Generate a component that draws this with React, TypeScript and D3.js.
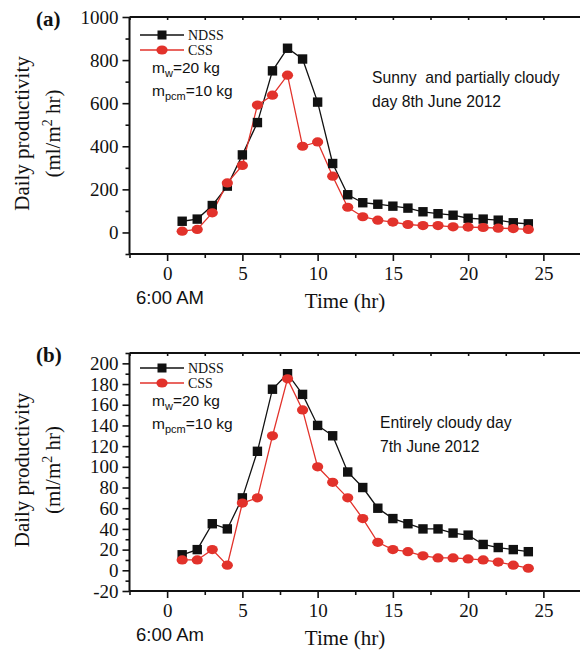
import React from 'react';
import * as d3 from 'd3';

const hours = [1, 2, 3, 4, 5, 6, 7, 8, 9, 10, 11, 12, 13, 14, 15, 16, 17, 18, 19, 20, 21, 22, 23, 24];

const ndssSunny = [52, 62, 125, 215, 360, 510, 750, 855, 805, 605, 320, 175, 138, 131, 122, 113, 96, 87, 80, 66, 62, 57, 45, 40];
const cssSunny = [6, 14, 91, 230, 311, 591, 637, 730, 400, 420, 261, 117, 73, 57, 48, 37, 32, 32, 26, 25, 23, 20, 18, 14];

const ndssCloudy = [15, 20, 45, 40, 70, 115, 175, 190, 170, 140, 130, 95, 80, 60, 50, 45, 40, 40, 36, 34, 25, 22, 20, 18];
const cssCloudy = [10, 10, 20, 5, 65, 70, 130, 185, 155, 100, 85, 70, 50, 27, 20, 18, 14, 12, 12, 11, 10, 8, 5, 2];

const xTicks = [0, 5, 10, 15, 20, 25];
const yTicksA = [0, 200, 400, 600, 800, 1000];
const yTicksB = [-20, 0, 20, 40, 60, 80, 100, 120, 140, 160, 180, 200];

const RED = '#e2322b';
const BLK = '#111';
const SERIF = '"Liberation Serif", "Times New Roman", serif';
const SANS = '"Liberation Sans", Arial, sans-serif';

type PanelProps = {
    top: number,
    bottom: number,
    yDomain: [number, number],
    yTicks: number[],
    yMinorStep: number,
    ndss: number[],
    css: number[],
    letter: string,
    note: string[],
    noteX: number,
    noteY: number,
    timeLabel: string,
    legendY: number,
};

function Panel(p: PanelProps) {
    const xAxisRef = React.useRef<SVGGElement>(null);
    const yAxisRef = React.useRef<SVGGElement>(null);
    const topRef = React.useRef<SVGGElement>(null);

    const x = d3.scaleLinear().domain([-2.5, 27.5]).range([129.5, 581]);
    const y = d3.scaleLinear().domain(p.yDomain).range([p.bottom, p.top]);

    const minorX = d3.range(-2.5, 27.6, 2.5).filter(v => !xTicks.includes(v));
    const minorY = d3.range(p.yDomain[0], p.yDomain[1] + 0.1, p.yMinorStep).filter(v => !p.yTicks.includes(v));

    React.useEffect(() => {
        const style = (g: any) => {
            g.select('.domain').remove();
            g.selectAll('line').attr('stroke', BLK).attr('stroke-width', 1.6);
            g.selectAll('text').attr('font-family', SERIF).attr('font-size', 19).attr('fill', BLK);
        };
        const plain = (d: any) => String(d);
        d3.select(xAxisRef.current)
            .call(d3.axisBottom(x).tickValues(xTicks).tickSize(7).tickPadding(6).tickFormat(plain) as any)
            .call(style);
        d3.select(xAxisRef.current).append('g')
            .call(d3.axisBottom(x).tickValues(minorX).tickSize(4).tickFormat(() => '') as any)
            .call(style);
        d3.select(yAxisRef.current)
            .call(d3.axisLeft(y).tickValues(p.yTicks).tickSize(7).tickPadding(4).tickFormat(plain) as any)
            .call(style);
        d3.select(yAxisRef.current).append('g')
            .call(d3.axisLeft(y).tickValues(minorY).tickSize(4).tickFormat(() => '') as any)
            .call(style);
        d3.select(topRef.current)
            .call(d3.axisBottom(x).tickValues(d3.range(-2.5, 27.6, 2.5)).tickSize(3).tickFormat(() => '') as any)
            .call(style);
        return () => {
            d3.select(xAxisRef.current).selectAll('*').remove();
            d3.select(yAxisRef.current).selectAll('*').remove();
            d3.select(topRef.current).selectAll('*').remove();
        };
    }, []);

    const line = d3.line<number>().x((d, i) => x(hours[i])).y(d => y(d));
    const midY = (p.top + p.bottom) / 2 - 2;
    const lx = 140;

    return <g>
        <g ref={xAxisRef} transform={`translate(0,${p.bottom})`} />
        <g ref={yAxisRef} transform={`translate(${x(-2.5)},0)`} />
        <g ref={topRef} transform={`translate(0,${p.top})`} />
        <line x1={x(-2.5)} x2={581} y1={p.bottom} y2={p.bottom} stroke={BLK} strokeWidth={2} />
        <line x1={x(-2.5)} x2={581} y1={p.top} y2={p.top} stroke={BLK} strokeWidth={2} />
        <line x1={x(-2.5)} x2={x(-2.5)} y1={p.top} y2={p.bottom} stroke={BLK} strokeWidth={2} />

        <path d={line(p.ndss) || ''} fill="none" stroke={BLK} strokeWidth={1.3} />
        <path d={line(p.css) || ''} fill="none" stroke={RED} strokeWidth={1.3} />
        {p.ndss.map((v, i) => <rect key={'n' + i} x={x(hours[i]) - 4.7} y={y(v) - 4.7} width={9.4} height={9.4} fill={BLK} />)}
        {p.css.map((v, i) => <ellipse key={'c' + i} cx={x(hours[i])} cy={y(v)} rx={5.6} ry={4.6} fill={RED} />)}

        <text x={36} y={p.top + 9} fontFamily={SERIF} fontWeight="bold" fontSize={21} fill={BLK}>{p.letter}</text>

        <line x1={lx} x2={lx + 44} y1={p.legendY} y2={p.legendY} stroke={BLK} strokeWidth={1.3} />
        <rect x={lx + 17.5} y={p.legendY - 4.5} width={9} height={9} fill={BLK} />
        <text x={lx + 48} y={p.legendY + 5} fontFamily={SERIF} fontSize={14} fill={BLK}>NDSS</text>
        <line x1={lx} x2={lx + 44} y1={p.legendY + 15} y2={p.legendY + 15} stroke={RED} strokeWidth={1.3} />
        <ellipse cx={lx + 22} cy={p.legendY + 15} rx={5.6} ry={4.6} fill={RED} />
        <text x={lx + 48} y={p.legendY + 20} fontFamily={SERIF} fontSize={14} fill={BLK}>CSS</text>

        <text x={lx + 12} y={p.legendY + 38} fontFamily={SANS} fontSize={15.5} fill={BLK}>
            m<tspan dy={4} fontSize={11}>w</tspan><tspan dy={-4}>=20 kg</tspan>
        </text>
        <text x={lx + 12} y={p.legendY + 61} fontFamily={SANS} fontSize={15.5} fill={BLK}>
            m<tspan dy={4} fontSize={11}>pcm</tspan><tspan dy={-4}>=10 kg</tspan>
        </text>

        {p.note.map((t, i) => <text key={t} x={p.noteX} y={p.noteY + i * 24} fontFamily={SANS} fontSize={15.7} fill={BLK} style={{ whiteSpace: 'pre' }}>{t}</text>)}

        <text transform={`translate(29,${midY}) rotate(-90)`} textAnchor="middle" fontFamily={SERIF} fontSize={21} fill={BLK}>Daily productivity</text>
        <text transform={`translate(60,${midY}) rotate(-90)`} textAnchor="middle" fontFamily={SERIF} fontSize={21} fill={BLK}>
            (ml/m<tspan dy={-8} fontSize={14}>2</tspan><tspan dy={8}> hr)</tspan>
        </text>

        <text x={136} y={p.bottom + 50} fontFamily={SANS} fontSize={18.5} fill={BLK}>{p.timeLabel}</text>
        <text x={345} y={p.bottom + 54} textAnchor="middle" fontFamily={SERIF} fontSize={21} fill={BLK}>Time (hr)</text>
    </g>;
}

export default function App() {
    return <svg width={580} height={653} style={{ position: 'absolute', left: 0, top: 0, background: '#fff' }}>
        <rect width={580} height={653} fill="#fff" />
        <Panel top={17} bottom={254} yDomain={[-100, 1000]} yTicks={yTicksA} yMinorStep={100}
            ndss={ndssSunny} css={cssSunny} letter="(a)"
            note={['Sunny  and partially cloudy', 'day 8th June 2012']} noteX={372} noteY={83}
            timeLabel="6:00 AM" legendY={35} />
        <Panel top={353} bottom={591} yDomain={[-20, 210]} yTicks={yTicksB} yMinorStep={10}
            ndss={ndssCloudy} css={cssCloudy} letter="(b)"
            note={['Entirely cloudy day', '7th June 2012']} noteX={380} noteY={428}
            timeLabel="6:00 Am" legendY={368} />
    </svg>;
}
